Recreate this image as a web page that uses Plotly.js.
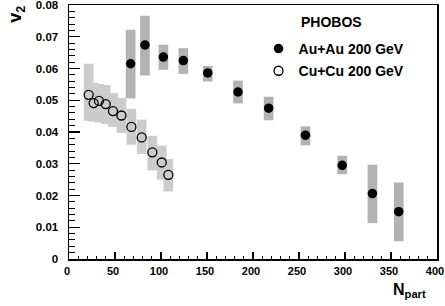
<!DOCTYPE html>
<html>
<head>
<meta charset="utf-8">
<script src="https://cdn.plot.ly/plotly-3.0.1.min.js"></script>
<style>html,body{margin:0;padding:0;background:#fff}#chart{width:445px;height:306px}</style>
</head>
<body>
<div id="chart"></div>
<script>
// Au+Au 200 GeV
const auNpart = [67, 82.6, 102.6, 124.3, 150.8, 183.7, 217, 257, 297, 329.8, 358.4];
const auV2    = [0.0615, 0.0674, 0.0636, 0.0625, 0.0586, 0.0526, 0.0475, 0.0390, 0.0295, 0.0206, 0.0149];
const auSysLo = [0.0506, 0.0578, 0.0596, 0.0583, 0.0559, 0.0490, 0.0437, 0.0358, 0.0267, 0.0113, 0.0056];
const auSysHi = [0.0722, 0.0766, 0.0675, 0.0664, 0.0608, 0.0562, 0.0511, 0.0418, 0.0325, 0.0297, 0.0241];
// Cu+Cu 200 GeV
const cuNpart = [21.4, 26.8, 32.6, 39.9, 47.8, 57, 67.8, 79, 90.6, 100.8, 108];
const cuV2    = [0.0517, 0.0491, 0.0498, 0.0488, 0.0466, 0.0452, 0.0416, 0.0383, 0.0336, 0.0304, 0.0265];
const cuSysLo = [0.0435, 0.0433, 0.0430, 0.0425, 0.0416, 0.0397, 0.0360, 0.0331, 0.0279, 0.0250, 0.0213];
const cuSysHi = [0.0615, 0.0555, 0.0551, 0.0548, 0.0523, 0.0507, 0.0473, 0.0439, 0.0388, 0.0357, 0.0315];

const xTicks = [0, 50, 100, 150, 200, 250, 300, 350, 400];
const yTicks = [0, 0.01, 0.02, 0.03, 0.04, 0.05, 0.06, 0.07, 0.08];

const FONT = 'Liberation Sans, Arial, Helvetica, sans-serif';
const diff = (hi, lo) => hi.map((h, i) => h - lo[i]);
const bold = s => '<b>' + s + '</b>';

const traces = [
  {type: 'bar', x: cuNpart, y: diff(cuSysHi, cuSysLo), base: cuSysLo, width: 10.5,
   marker: {color: '#cccccc', line: {width: 0}}, showlegend: false, hoverinfo: 'skip'},
  {type: 'bar', x: auNpart, y: diff(auSysHi, auSysLo), base: auSysLo, width: 10.5,
   marker: {color: '#b2b2b2', line: {width: 0}}, showlegend: false, hoverinfo: 'skip'},
  {type: 'scatter', mode: 'markers', x: auNpart, y: auV2, name: 'Au+Au 200 GeV', legendgroup: 'a',
   marker: {symbol: 'circle', size: 9.5, color: '#000000', line: {width: 0}}},
  {type: 'scatter', mode: 'markers', x: cuNpart, y: cuV2, name: 'Cu+Cu 200 GeV', legendgroup: 'b',
   marker: {symbol: 'circle-open', size: 9, color: '#000000', line: {width: 1.3, color: '#000000'}}}
];

const axisCommon = {
  showgrid: false, zeroline: false, showline: true, linecolor: '#000', linewidth: 1.5,
  mirror: true, ticks: 'inside', tickcolor: '#000', tickwidth: 1.2,
  ticklabeloverflow: 'allow',
  tickfont: {family: FONT, size: 11.5, color: '#000', weight: 'bold'}
};

const layout = {
  width: 445, height: 306,
  margin: {l: 69, r: 8, t: 5, b: 47},
  paper_bgcolor: '#fff', plot_bgcolor: '#fff',
  barmode: 'overlay',
  font: {family: FONT, color: '#000'},
  xaxis: Object.assign({}, axisCommon, {
    range: [0, 400], tickmode: 'array', tickvals: xTicks, ticktext: xTicks.map(v => bold(String(v))),
    ticklen: 7, ticklabelstandoff: 1, ticklabelshift: -2,
    tickfont: {family: FONT, size: 11, color: '#000', weight: 'bold'},
    minor: {dtick: 10, ticks: 'inside', ticklen: 3.5, tickcolor: '#000', tickwidth: 1}
  }),
  yaxis: Object.assign({}, axisCommon, {
    range: [0, 0.08], tickmode: 'array', tickvals: yTicks,
    ticktext: yTicks.map(v => bold(v === 0 ? '0' : v.toFixed(2))),
    ticklen: 11, ticklabelstandoff: 7,
    minor: {dtick: 0.002, ticks: 'inside', ticklen: 6, tickcolor: '#000', tickwidth: 1}
  }),
  showlegend: true,
  legend: {x: 0.515, y: 0.89, xanchor: 'left', yanchor: 'top', bgcolor: 'rgba(0,0,0,0)',
           font: {family: FONT, size: 14, color: '#000', weight: 'bold'}, tracegroupgap: 1,
           itemclick: false},
  annotations: [
    {text: 'PHOBOS', xref: 'paper', yref: 'paper', x: 0.625, y: 0.934, xanchor: 'left', yanchor: 'middle',
     showarrow: false, font: {family: FONT, size: 14, color: '#000', weight: 'bold'}},
    {text: 'v<sub>2</sub>', xref: 'paper', yref: 'paper', x: -0.143, y: 0.963, xanchor: 'center', yanchor: 'middle',
     textangle: -90, showarrow: false, font: {family: FONT, size: 18, color: '#000', weight: 'bold'}},
    {text: 'N<sub>part</sub>', xref: 'paper', yref: 'paper', x: 0.976, y: -0.125, xanchor: 'right', yanchor: 'middle',
     showarrow: false, font: {family: FONT, size: 16, color: '#000', weight: 'bold'}}
  ]
};

Plotly.newPlot('chart', traces, layout, {staticPlot: true, displayModeBar: false});
</script>
</body>
</html>
